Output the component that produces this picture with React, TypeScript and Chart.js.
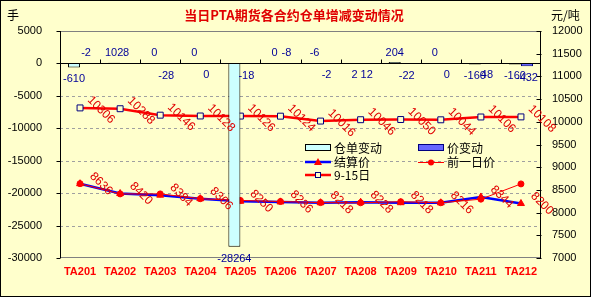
import React, { useEffect, useRef } from "react";
import { Chart, registerables } from "chart.js";

Chart.register(...registerables);

const categories = ["TA201", "TA202", "TA203", "TA204", "TA205", "TA206", "TA207", "TA208", "TA209", "TA210", "TA211", "TA212"];
const warehouseChange = [-610, 102, 0, 0, -28264, 0, -6, 2, 204, 0, -160, -160];
const priceChange = [-2, 8, -28, 0, -18, -8, -2, 12, -22, 0, 48, -432];
const settlePrice = [8636, 8420, 8384, 8306, 8250, 8236, 8218, 8228, 8218, 8216, 8344, 8200];
const prevDayPrice = [8638, 8412, 8412, 8306, 8268, 8244, 8220, 8216, 8240, 8216, 8296, 8632];
const sep15Price = [10306, 10288, 10146, 10128, 10126, 10124, 10016, 10046, 10050, 10044, 10106, 10108];

const leftAxis = { min: -30000, max: 5000, step: 5000 };
const rightAxis = { min: 7000, max: 12000, step: 500 };

// which bar labels sit above the zero line (styling only)
const warehouseLabelAbove = [false, true, true, true, false, true, true, false, true, true, false, false];
const priceLabelAbove = [true, true, false, false, false, true, false, false, false, false, false, false];

const TITLE = "当日PTA期货各合约仓单增减变动情况";
const CJK = '"Noto Sans CJK SC", sans-serif';
const LAT = '"Liberation Sans", Arial, sans-serif';

const decor = {
  id: "decor",
  beforeDraw(chart: any) {
    const ctx = chart.ctx;
    ctx.save();
    ctx.fillStyle = "#FFFFCC";
    ctx.fillRect(0, 0, chart.width, chart.height);
    ctx.restore();
  },
  beforeDatasetsDraw(chart: any) {
    const { ctx, chartArea: a, scales } = chart;
    const y = scales.y;
    ctx.save();
    ctx.lineWidth = 1;
    ctx.strokeStyle = "#A0A0A0";
    ctx.setLineDash([3, 3]);
    y.ticks.forEach((t: any) => {
      if (t.value === 0 || t.value === y.max || t.value === y.min) return;
      const py = Math.round(y.getPixelForValue(t.value)) + 0.5;
      ctx.beginPath();
      ctx.moveTo(a.left, py);
      ctx.lineTo(a.right, py);
      ctx.stroke();
    });
    ctx.setLineDash([]);
    ctx.strokeStyle = "#808080";
    const top = Math.round(a.top) + 0.5;
    const bot = Math.round(a.bottom) - 0.5;
    ctx.beginPath();
    ctx.moveTo(a.left, top);
    ctx.lineTo(a.right, top);
    ctx.moveTo(a.left, bot);
    ctx.lineTo(a.right, bot);
    ctx.stroke();
    ctx.restore();
  },
  afterDatasetsDraw(chart: any) {
    const { ctx, chartArea: a, scales } = chart;
    const y = scales.y;
    const y2 = scales.y2;
    const x = scales.x;
    ctx.save();
    // zero line with category tick marks
    const zy = Math.round(y.getPixelForValue(0)) + 0.5;
    ctx.strokeStyle = "#000";
    ctx.lineWidth = 1;
    ctx.beginPath();
    ctx.moveTo(a.left, zy);
    ctx.lineTo(a.right, zy);
    const n = categories.length;
    for (let i = 1; i < n; i++) {
      const px = Math.round((x.getPixelForValue(i - 1) + x.getPixelForValue(i)) / 2) + 0.5;
      ctx.moveTo(px, zy);
      ctx.lineTo(px, zy - 4);
    }
    ctx.stroke();
    // axis lines
    const lx = Math.round(a.left) + 0.5;
    const rx = Math.round(a.right) - 0.5;
    ctx.beginPath();
    ctx.moveTo(lx, a.top);
    ctx.lineTo(lx, a.bottom);
    ctx.moveTo(rx, a.top);
    ctx.lineTo(rx, a.bottom);
    y.ticks.forEach((t: any) => {
      const py = Math.round(y.getPixelForValue(t.value)) + 0.5;
      ctx.moveTo(lx - 4, py);
      ctx.lineTo(lx, py);
    });
    y2.ticks.forEach((t: any) => {
      const py = Math.round(y2.getPixelForValue(t.value)) + 0.5;
      ctx.moveTo(rx - 4, py);
      ctx.lineTo(rx + 1, py);
    });
    ctx.stroke();

    // bar labels
    ctx.font = `11px ${LAT}`;
    ctx.fillStyle = "#000099";
    ctx.textAlign = "center";
    ctx.textBaseline = "middle";
    const drawBarLabels = (dsIndex: number, values: number[], above: boolean[]) => {
      const meta = chart.getDatasetMeta(dsIndex);
      meta.data.forEach((el: any, i: number) => {
        const zero = y.getPixelForValue(0);
        const ly = above[i] ? zero - 10 : Math.max(el.y, el.base) + 12;
        ctx.fillText(String(values[i]), el.x, ly);
      });
    };
    drawBarLabels(0, warehouseChange, warehouseLabelAbove);
    drawBarLabels(1, priceChange, priceLabelAbove);

    // rotated line labels
    ctx.font = `12px ${LAT}`;
    ctx.fillStyle = "#E00000";
    const drawLineLabels = (dsIndex: number, values: number[], dy: number) => {
      const meta = chart.getDatasetMeta(dsIndex);
      meta.data.forEach((el: any, i: number) => {
        ctx.save();
        ctx.translate(el.x + 21, el.y + dy);
        ctx.rotate(Math.PI / 4);
        ctx.fillText(String(values[i]), 0, 0);
        ctx.restore();
      });
    };
    drawLineLabels(2, settlePrice, 0);
    drawLineLabels(4, sep15Price, 2);
    ctx.restore();
  },
  afterDraw(chart: any) {
    const { ctx } = chart;
    ctx.save();
    // titles
    ctx.textBaseline = "middle";
    ctx.textAlign = "center";
    ctx.fillStyle = "#E00000";
    ctx.font = `bold 13px ${CJK}`;
    ctx.fillText(TITLE, 294, 15);
    ctx.fillStyle = "#000";
    ctx.font = `12px ${CJK}`;
    ctx.textAlign = "left";
    ctx.fillText("手", 7, 15);
    ctx.fillText("元/吨", 551, 15);

    // legend
    const col1 = 305;
    const col2 = 418;
    const rows = [148, 162, 175];
    const sw = 26;
    ctx.lineWidth = 1;
    ctx.fillStyle = "#CCFFFF";
    ctx.fillRect(col1, rows[0] - 4, sw, 7);
    ctx.strokeStyle = "#000";
    ctx.strokeRect(col1 + 0.5, rows[0] - 3.5, sw - 1, 6);
    ctx.fillStyle = "#6666FF";
    ctx.fillRect(col2, rows[0] - 4, sw, 7);
    ctx.strokeStyle = "#000080";
    ctx.strokeRect(col2 + 0.5, rows[0] - 3.5, sw - 1, 6);
    ctx.strokeStyle = "#0000FF";
    ctx.lineWidth = 2.5;
    ctx.beginPath();
    ctx.moveTo(col1, rows[1]);
    ctx.lineTo(col1 + sw, rows[1]);
    ctx.stroke();
    ctx.fillStyle = "#FF0000";
    ctx.beginPath();
    ctx.moveTo(col1 + 13, rows[1] - 4);
    ctx.lineTo(col1 + 17, rows[1] + 3);
    ctx.lineTo(col1 + 9, rows[1] + 3);
    ctx.closePath();
    ctx.fill();
    ctx.strokeStyle = "#FF0000";
    ctx.lineWidth = 1;
    ctx.beginPath();
    ctx.moveTo(col2, rows[1] + 0.5);
    ctx.lineTo(col2 + sw, rows[1] + 0.5);
    ctx.stroke();
    ctx.beginPath();
    ctx.arc(col2 + 13, rows[1] + 0.5, 3, 0, Math.PI * 2);
    ctx.fill();
    ctx.strokeStyle = "#FF0000";
    ctx.lineWidth = 2.5;
    ctx.beginPath();
    ctx.moveTo(col1, rows[2]);
    ctx.lineTo(col1 + sw, rows[2]);
    ctx.stroke();
    ctx.fillStyle = "#FFFFCC";
    ctx.fillRect(col1 + 10, rows[2] - 3, 6, 6);
    ctx.strokeStyle = "#000080";
    ctx.lineWidth = 1;
    ctx.strokeRect(col1 + 10.5, rows[2] - 2.5, 5, 5);

    ctx.fillStyle = "#000";
    ctx.font = `12px ${CJK}`;
    ctx.textAlign = "left";
    ctx.fillText("仓单变动", col1 + sw + 3, rows[0]);
    ctx.fillText("价变动", col2 + sw + 3, rows[0]);
    ctx.fillText("结算价", col1 + sw + 3, rows[1]);
    ctx.fillText("前一日价", col2 + sw + 3, rows[1]);
    ctx.fillText("9-15日", col1 + sw + 3, rows[2]);

    // outer border
    ctx.strokeStyle = "#000";
    ctx.lineWidth = 1;
    ctx.strokeRect(0.5, 0.5, chart.width - 1, chart.height - 1);
    ctx.restore();
  },
};

export default function App() {
  const ref = useRef<HTMLCanvasElement>(null);
  useEffect(() => {
    if (!ref.current) return;
    const tickFont = { family: LAT, size: 11 };
    const chart = new Chart(ref.current, {
      type: "bar",
      data: {
        labels: categories,
        datasets: [
          {
            type: "bar",
            label: "仓单变动",
            data: warehouseChange,
            backgroundColor: "#CCFFFF",
            borderColor: "#000000",
            borderWidth: 1,
            yAxisID: "y",
            order: 0,
          },
          {
            type: "bar",
            label: "价变动",
            data: priceChange,
            backgroundColor: "#6666FF",
            borderColor: "#000080",
            borderWidth: 1,
            yAxisID: "y",
            order: 0,
          },
          {
            type: "line",
            label: "结算价",
            data: settlePrice,
            borderColor: "#0000FF",
            borderWidth: 2.5,
            pointStyle: "triangle",
            pointRadius: 4,
            pointBackgroundColor: "#FF0000",
            pointBorderColor: "#FF0000",
            pointBorderWidth: 1,
            yAxisID: "y2",
            tension: 0,
            order: 3,
          },
          {
            type: "line",
            label: "前一日价",
            data: prevDayPrice,
            borderColor: "#FF0000",
            borderWidth: 1,
            pointStyle: "circle",
            pointRadius: 3,
            pointBackgroundColor: "#FF0000",
            pointBorderColor: "#FF0000",
            yAxisID: "y2",
            tension: 0,
            order: 2,
          },
          {
            type: "line",
            label: "9-15日",
            data: sep15Price,
            borderColor: "#FF0000",
            borderWidth: 2.5,
            pointStyle: "rect",
            pointRadius: 4.2,
            pointBackgroundColor: "#FFFFCC",
            pointBorderColor: "#000080",
            pointBorderWidth: 1,
            yAxisID: "y2",
            tension: 0,
            order: 1,
          },
        ],
      },
      options: {
        responsive: false,
        maintainAspectRatio: false,
        animation: false,
        devicePixelRatio: 1,
        layout: { padding: { top: 31, left: 0, right: 0, bottom: 0 } },
        plugins: { legend: { display: false }, tooltip: { enabled: false } },
        datasets: { bar: { categoryPercentage: 0.6, barPercentage: 1.0 } },
        scales: {
          x: {
            type: "category",
            position: "bottom",
            offset: true,
            grid: { display: false, drawTicks: false },
            border: { display: false },
            ticks: {
              font: { family: LAT, size: 11, weight: "bold" },
              color: "#FF0000",
              padding: 7,
              maxRotation: 0,
              autoSkip: false,
            },
            afterFit: (s: any) => {
              s.height = 39;
            },
          },
          y: {
            type: "linear",
            position: "left",
            min: leftAxis.min,
            max: leftAxis.max,
            ticks: { stepSize: leftAxis.step, font: tickFont, color: "#000", padding: 18, callback: (v: any) => String(v) },
            grid: { display: false, drawTicks: false },
            border: { display: false },
            afterFit: (s: any) => {
              s.width = 60;
            },
          },
          y2: {
            type: "linear",
            position: "right",
            min: rightAxis.min,
            max: rightAxis.max,
            ticks: { stepSize: rightAxis.step, font: tickFont, color: "#000", padding: 11, callback: (v: any) => String(v) },
            grid: { display: false, drawTicks: false },
            border: { display: false },
            afterFit: (s: any) => {
              s.width = 50;
            },
          },
        },
      } as any,
      plugins: [decor],
    });
    return () => chart.destroy();
  }, []);
  return (
    <div style={{ position: "fixed", left: 0, top: 0, width: 591, height: 297 }}>
      <canvas ref={ref} width={591} height={297} style={{ display: "block", width: 591, height: 297 }} />
    </div>
  );
}
